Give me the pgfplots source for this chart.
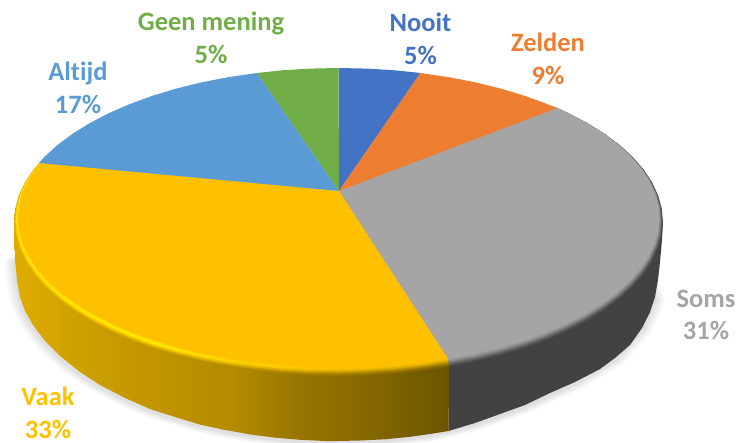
\documentclass[border=0pt]{standalone}
\usepackage{fontspec}
\setmainfont{Carlito}[Ligatures=NoCommon]
\usepackage{pgfplots}
\usepackage{pgfplotstable}
\pgfplotsset{compat=1.18}
\definecolor{cNooit}{HTML}{4472C4}
\definecolor{cZelden}{HTML}{ED7D31}
\definecolor{cSoms}{HTML}{A5A5A5}
\definecolor{cVaak}{HTML}{FFC000}
\definecolor{cAltijd}{HTML}{5B9BD5}
\definecolor{cGeen}{HTML}{70AD47}

% side and rim of the Vaak slice: 25bp = left end, 75bp = right end of the path
\pgfdeclarehorizontalshading{vaakside}{100bp}{rgb(0bp)=(0.878,0.675,0);rgb(25bp)=(0.878,0.675,0);rgb(32.6bp)=(0.804,0.627,0);rgb(40.6bp)=(0.761,0.584,0);rgb(49.8bp)=(0.71,0.545,0);rgb(57.9bp)=(0.592,0.459,0);rgb(65.9bp)=(0.522,0.404,0);rgb(75bp)=(0.416,0.333,0);rgb(100bp)=(0.416,0.333,0)}
\pgfdeclarehorizontalshading{rima}{100bp}{rgb(0bp)=(0.85,0.66,0);rgb(25bp)=(0.85,0.66,0);rgb(40.6bp)=(0.78,0.63,0);rgb(57.9bp)=(0.63,0.49,0);rgb(75bp)=(0.48,0.38,0);rgb(100bp)=(0.48,0.38,0)}
\pgfdeclarehorizontalshading{rimb}{100bp}{rgb(0bp)=(0.94,0.74,0);rgb(25bp)=(0.94,0.74,0);rgb(40.6bp)=(0.91,0.71,0);rgb(57.9bp)=(0.72,0.56,0);rgb(75bp)=(0.56,0.44,0);rgb(100bp)=(0.56,0.44,0)}
\pgfdeclarehorizontalshading{rimc}{100bp}{rgb(0bp)=(1,0.82,0);rgb(25bp)=(1,0.82,0);rgb(40.6bp)=(1,0.82,0);rgb(57.9bp)=(0.85,0.66,0);rgb(75bp)=(0.68,0.53,0);rgb(100bp)=(0.68,0.53,0)}
\pgfdeclarehorizontalshading{rimd}{100bp}{rgb(0bp)=(1,0.9,0);rgb(25bp)=(1,0.9,0);rgb(40.6bp)=(1,0.93,0);rgb(57.9bp)=(0.94,0.75,0);rgb(75bp)=(0.82,0.63,0);rgb(100bp)=(0.82,0.63,0)}
\pgfdeclarehorizontalshading{rime}{100bp}{rgb(0bp)=(1,0.86,0);rgb(25bp)=(1,0.86,0);rgb(40.6bp)=(1,0.88,0);rgb(57.9bp)=(1,0.78,0);rgb(75bp)=(0.94,0.71,0);rgb(100bp)=(0.94,0.71,0)}

% outlines in picture pixels, y downwards
\pgfplotstableread{
x y
338.5 68
366.8 68.6
394.8 70.3
420.5 73
339 191
}\nooit
\pgfplotstableread{
x y
420.5 73
449.5 77.3
475.6 82.4
500.8 88.6
524.6 95.8
547.1 104
557 108
339 191
}\zelden
\pgfplotstableread{
x y
339 194.3
557 108
568 113.1
587.1 123
604.3 133.7
619.5 145
632.6 156.9
643.4 169.3
651.9 182.1
658.1 195.3
661.8 208.6
663 222
661.8 235.4
658.1 248.7
651.9 261.9
643.4 274.7
632.6 287.1
619.5 299
604.3 310.3
587.1 321
568 330.9
547.1 340
524.6 348.2
500.8 355.4
475.6 361.6
449.5 366.7
}\soms
\pgfplotstableread{
x y
339 194.3
449.5 366.7
422.5 370.7
394.8 373.7
366.8 375.4
338.5 376
310.2 375.4
282.2 373.7
254.5 370.7
227.5 366.7
201.4 361.6
176.2 355.4
152.4 348.2
129.9 340
109 330.9
89.9 321
72.7 310.3
57.5 299
44.4 287.1
33.6 274.7
25.1 261.9
18.9 248.7
15.2 235.4
14 222
15.2 208.6
18.9 195.3
25.1 182.1
33.6 169.3
39 163
}\vaak
\pgfplotstableread{
x y
39 163
44.4 156.9
57.5 145
72.7 133.7
89.9 123
109 113.1
129.9 104
152.4 95.8
176.2 88.6
201.4 82.4
227.5 77.3
257 73
339 191
}\altijd
\pgfplotstableread{
x y
257 73
282.2 70.3
310.2 68.6
338.5 68
339 191
}\geen
\pgfplotstableread{
x y
449.5 340
14 222
15 260
17 280
20 297
25 311
33 325
45 341
60 356
80 372
100 385
125 398
150 409
175 417
200 424.6
225 430
250 434.4
275 437.7
300 439.8
325 441
338.5 441
360 440.5
385 439.3
410 436.8
430 434
448.5 431
}\vaakside
\pgfplotstableread{
x y
448.5 431
475 423
500 414
525 405
550 393
575 382
600 369
615 358
630 345
642 328
650 312
655 297
658 280
660 262
662 240
663 222
449.5 340
}\somsside
\pgfplotstableread{
x y
40 240
15 260
17 280
20 297
25 311
33 325
45 341
60 356
80 372
100 385
125 398
150 409
175 417
200 424.6
225 430
250 434.4
275 437.7
300 439.8
338.5 441
385 439.3
430 434
475 423
525 405
575 382
615 358
642 328
655 297
640 260
}\shadowline

\newcommand{\rimlayer}[3]{\addplot[draw=none,#2] table[x expr=338.5+(\thisrow{x}-338.5)*(1-0.0123*#3),y expr=68+(\thisrow{y}-68)*(1-0.026*#3)] {#1} -- cycle;}
\newcommand{\shadowlayer}[2]{\addplot[draw=none,fill=#2] table[x expr=338.5+(\thisrow{x}-338.5)*#1,y expr=274+(\thisrow{y}-272)*#1] {\shadowline} -- cycle;}
\newcommand{\slice}[2]{\addplot[draw=none,fill=#2] table {#1} -- cycle;}

\tikzset{lab/.style={font=\fontsize{26.5}{32.5}\selectfont\bfseries,align=center,inner sep=0pt}}

\begin{document}
\begin{tikzpicture}
\path[use as bounding box] (0,0) rectangle (739pt,443pt);
\begin{axis}[
  at={(0,0)},anchor=south west,
  scale only axis,width=739pt,height=443pt,
  xmin=0,xmax=739,ymin=0,ymax=443,y dir=reverse,
  axis lines=none,no markers
]
% soft shadow under the disc
\shadowlayer{1.032}{black!3}
\shadowlayer{1.024}{black!6}
\shadowlayer{1.016}{black!9}
\shadowlayer{1.008}{black!12}
% sides
\addplot[draw=none,fill=black!74] table {\somsside} -- cycle;
\addplot[draw=none,shade,shading=vaakside] table {\vaakside} -- cycle;
% Soms with its soft rim
\rimlayer{\soms}{fill=black!71}{0}
\rimlayer{\soms}{fill=black!63}{0.2}
\rimlayer{\soms}{fill=black!55}{0.4}
\rimlayer{\soms}{fill=black!46}{0.6}
\rimlayer{\soms}{fill=black!39}{0.8}
\rimlayer{\soms}{fill=cSoms}{1}
% Vaak with its bright rim
\rimlayer{\vaak}{shade,shading=rima}{0}
\rimlayer{\vaak}{shade,shading=rimb}{0.2}
\rimlayer{\vaak}{shade,shading=rimc}{0.4}
\rimlayer{\vaak}{shade,shading=rimd}{0.6}
\rimlayer{\vaak}{shade,shading=rime}{0.8}
\rimlayer{\vaak}{fill=cVaak}{1}
% flat slices
\slice{\nooit}{cNooit}
\slice{\zelden}{cZelden}
\slice{\altijd}{cAltijd}
\slice{\geen}{cGeen}
% labels
\node[lab,text=cGeen] at (axis cs:211,38) {Geen mening\\5\%};
\node[lab,text=cNooit] at (axis cs:420.5,39) {Nooit\\5\%};
\node[lab,text=cZelden] at (axis cs:548,59) {Zelden\\9\%};
\node[lab,text=cAltijd] at (axis cs:78,88) {Altijd\\17\%};
\node[lab,text=cSoms] at (axis cs:706,315) {Soms\\31\%};
\node[lab,text=cVaak] at (axis cs:48,413) {Vaak\\33\%};
\end{axis}
\end{tikzpicture}
\end{document}
